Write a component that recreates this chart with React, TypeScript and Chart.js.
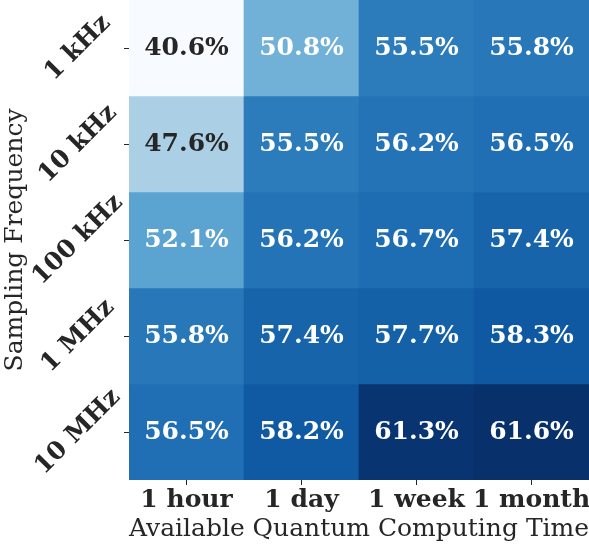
import React, { useEffect, useRef } from "react";
import { Chart, registerables } from "chart.js";

Chart.register(...registerables);

const timeLabels = ["1 hour", "1 day", "1 week", "1 month"];
const freqLabels = ["1 kHz", "10 kHz", "100 kHz", "1 MHz", "10 MHz"];
const row1kHz = [40.6, 50.8, 55.5, 55.8];
const row10kHz = [47.6, 55.5, 56.2, 56.5];
const row100kHz = [52.1, 56.2, 56.7, 57.4];
const row1MHz = [55.8, 57.4, 57.7, 58.3];
const row10MHz = [56.5, 58.2, 61.3, 61.6];
const rows = [row1kHz, row10kHz, row100kHz, row1MHz, row10MHz];

const BLUES = [
  [247, 251, 255],
  [222, 235, 247],
  [198, 219, 239],
  [158, 202, 225],
  [107, 174, 214],
  [66, 146, 198],
  [33, 113, 181],
  [8, 81, 156],
  [8, 48, 107],
];

const allVals = rows.flat();
const vmin = Math.min(...allVals);
const vmax = Math.max(...allVals);

function blues(v: number): number[] {
  let t = (v - vmin) / (vmax - vmin);
  t = Math.max(0, Math.min(1, t));
  const p = t * (BLUES.length - 1);
  const i = Math.min(Math.floor(p), BLUES.length - 2);
  const f = p - i;
  return BLUES[i].map((c, k) => c + (BLUES[i + 1][k] - c) * f);
}
function rgbStr(c: number[]) {
  return `rgb(${Math.round(c[0])},${Math.round(c[1])},${Math.round(c[2])})`;
}
function lum(c: number[]) {
  const l = c.map((x) => {
    const s = x / 255;
    return s <= 0.03928 ? s / 12.92 : Math.pow((s + 0.055) / 1.055, 2.4);
  });
  return 0.2126 * l[0] + 0.7152 * l[1] + 0.0722 * l[2];
}

const TEXT = "#262626";
const FONT = "'DejaVu Serif', serif";
const FS = 25;

const annotate = {
  id: "annotate",
  afterDatasetsDraw(chart: any) {
    const ctx = chart.ctx;
    ctx.save();
    ctx.font = `bold ${FS}px ${FONT}`;
    ctx.textAlign = "center";
    ctx.textBaseline = "middle";
    rows.forEach((row, r) => {
      const meta = chart.getDatasetMeta(r);
      row.forEach((v, c) => {
        const el: any = meta.data[c];
        const col = blues(v);
        ctx.fillStyle = lum(col) > 0.408 ? TEXT : "#ffffff";
        ctx.fillText(`${v.toFixed(1)}%`, el.x, (el.y + el.base) / 2);
      });
    });
    ctx.restore();
  },
};

export default function App() {
  const ref = useRef<HTMLCanvasElement>(null);
  useEffect(() => {
    document.body.style.margin = "0";
    const chart = new Chart(ref.current!, {
      type: "bar",
      data: {
        labels: timeLabels,
        datasets: rows.map((row, r) => ({
          label: freqLabels[r],
          data: row.map(() => [r, r + 1]) as any,
          backgroundColor: row.map((v) => rgbStr(blues(v))),
          borderWidth: 0,
          grouped: false,
          barPercentage: 1,
          categoryPercentage: 1,
        })),
      },
      options: {
        animation: false,
        responsive: false,
        events: [],
        layout: { padding: 0 },
        plugins: { legend: { display: false }, tooltip: { enabled: false } },
        scales: {
          x: {
            type: "category",
            offset: true,
            grid: {
              offset: false,
              drawOnChartArea: false,
              drawTicks: true,
              tickLength: 5,
              tickWidth: 1,
              tickColor: TEXT,
            },
            border: { display: false },
            ticks: {
              color: TEXT,
              font: { family: FONT, size: FS, weight: "bold" },
              padding: 0,
              maxRotation: 0,
              minRotation: 0,
              autoSkip: false,
            },
            title: {
              display: true,
              text: "Available Quantum Computing Time",
              color: TEXT,
              font: { family: FONT, size: FS },
              padding: 0,
            },
            afterFit: (s: any) => {
              s.height = 64;
              s.paddingLeft = 0;
              s.paddingRight = 0;
            },
          },
          y: {
            type: "linear",
            min: 0,
            max: 5,
            reverse: true,
            afterBuildTicks: (s: any) => {
              s.ticks = freqLabels.map((_, i) => ({ value: i + 0.5 }));
            },
            grid: {
              drawOnChartArea: false,
              drawTicks: true,
              tickLength: 5,
              tickWidth: 1,
              tickColor: TEXT,
            },
            border: { display: false },
            ticks: {
              color: TEXT,
              font: { family: FONT, size: FS, weight: "bold" },
              minRotation: 45,
              maxRotation: 45,
              crossAlign: "center",
              padding: -12,
              autoSkip: false,
              callback: (_v: any, i: number) => freqLabels[i],
            },
            title: {
              display: true,
              text: "Sampling Frequency",
              color: TEXT,
              font: { family: FONT, size: FS },
              padding: 0,
            },
            afterFit: (s: any) => {
              s.width = 129;
              s.paddingTop = 0;
              s.paddingBottom = 0;
            },
          },
        },
      } as any,
      plugins: [annotate],
    });
    return () => chart.destroy();
  }, []);
  return <canvas ref={ref} width={589} height={544} />;
}
